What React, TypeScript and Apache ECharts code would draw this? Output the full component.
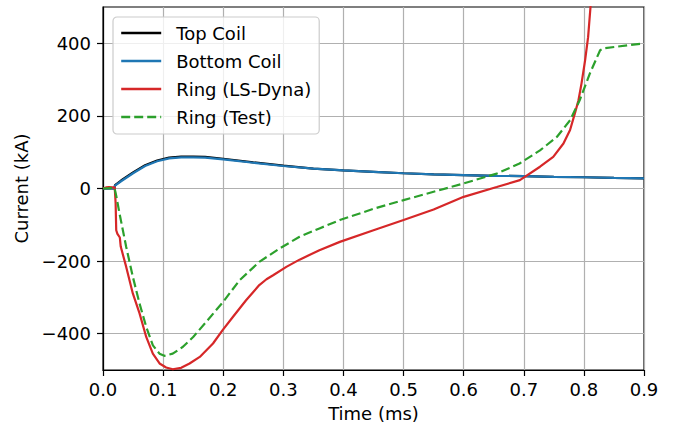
import React, { useEffect, useRef } from "react";
import * as echarts from "echarts";

const coilT = [0, 0.019, 0.02, 0.03, 0.05, 0.07, 0.09, 0.11, 0.13, 0.15, 0.17, 0.2, 0.25, 0.3, 0.35, 0.4, 0.45, 0.5, 0.55, 0.6, 0.65, 0.7, 0.75, 0.8, 0.85, 0.9];
const topCoil = [0, 0, 9, 22, 44, 64, 77, 85, 88, 88, 87, 82, 72, 63, 55, 50, 46, 42, 39, 37, 35, 34, 32, 31, 29, 28];
const bottomCoil = [0, 0, 8, 20, 42, 62, 75, 83, 86, 86, 85, 80, 71, 62, 55, 50, 46, 42, 39, 37, 35, 34, 32, 31, 29, 28];

const ringDynaT = [0, 0.005, 0.01, 0.015, 0.0195, 0.021, 0.022, 0.024, 0.028, 0.0295, 0.0386, 0.0496, 0.0608, 0.0719, 0.0829, 0.0941, 0.105, 0.116, 0.13, 0.144, 0.161, 0.183, 0.199, 0.216, 0.238, 0.25, 0.26, 0.272, 0.283, 0.305, 0.327, 0.36, 0.394, 0.45, 0.5, 0.55, 0.6, 0.655, 0.6935, 0.727, 0.749, 0.766, 0.777, 0.785, 0.791, 0.796, 0.802, 0.807, 0.811, 0.816];
const ringDyna = [0, 3, 4, 3, 3, -40, -115, -125, -135, -160, -216, -289, -344, -409, -455, -482, -493, -498, -494, -482, -464, -427, -390, -354, -308, -285, -266, -250, -239, -216, -196, -170, -147, -115, -87, -58, -23, 4, 23, 60, 87, 124, 161, 207, 243, 289, 353, 417, 500, 580];

const ringTestT = [0, 0.01, 0.019, 0.022, 0.0275, 0.0386, 0.0496, 0.0608, 0.0719, 0.083, 0.094, 0.102, 0.116, 0.133, 0.15, 0.172, 0.2, 0.227, 0.26, 0.294, 0.327, 0.36, 0.394, 0.45, 0.5, 0.55, 0.6, 0.655, 0.693, 0.727, 0.755, 0.777, 0.793, 0.81, 0.827, 0.832, 0.9];
const ringTest = [0, 1, 2, -20, -69, -161, -243, -317, -381, -432, -455, -461, -455, -436, -409, -367, -312, -253, -202, -165, -133, -110, -87, -56, -32, -9, 14, 41, 69, 105, 142, 188, 243, 317, 381, 386, 400];

const yTicks = [-400, -200, 0, 200, 400];
const names = ["Top Coil", "Bottom Coil", "Ring (LS-Dyna)", "Ring (Test)"];

const zip = (t: number[], v: number[]) => t.map((x, i) => [x, v[i]]);
const FONT = "DejaVu Sans";
const FS = 18;

export default function App() {
  const ref = useRef<HTMLDivElement>(null);
  useEffect(() => {
    if (!ref.current) return;
    const chart = echarts.init(ref.current, null, { renderer: "svg" });
    const lineBase = { type: "line", showSymbol: false, symbol: "none", smooth: false };
    chart.setOption({
      animation: false,
      backgroundColor: "#fff",
      textStyle: { fontFamily: FONT },
      grid: { left: 103, top: 7, right: 34, bottom: 60, show: true, borderColor: "#000", borderWidth: 1.2, backgroundColor: "transparent" },
      legend: {
        data: names,
        orient: "vertical",
        left: 113,
        top: 17,
        itemWidth: 40,
        itemHeight: 18,
        itemGap: 10,
        padding: [7, 8, 8, 7],
        backgroundColor: "rgba(255,255,255,0.8)",
        borderColor: "#cccccc",
        borderWidth: 1.2,
        borderRadius: 4,
        itemStyle: { opacity: 0 },
        lineStyle: { width: 2.4 },
        textStyle: { fontFamily: FONT, fontSize: FS, color: "#000", lineHeight: 18, padding: [0, 0, 0, 10] },
      },
      xAxis: {
        type: "value",
        min: 0,
        max: 0.9,
        interval: 0.1,
        name: "Time (ms)",
        nameLocation: "middle",
        nameGap: 34,
        nameTextStyle: { fontFamily: FONT, fontSize: FS, color: "#000" },
        axisLine: { show: true, onZero: false, lineStyle: { color: "#000", width: 1.2 } },
        axisTick: { show: true, length: 6, lineStyle: { color: "#000", width: 1.2 } },
        axisLabel: { fontFamily: FONT, fontSize: FS, color: "#000", margin: 10, formatter: (v: number) => v.toFixed(1) },
        splitLine: { show: true, lineStyle: { color: "#b0b0b0", width: 1.2 } },
      },
      yAxis: {
        type: "value",
        min: -500,
        max: 500,
        interval: 100,
        name: "Current (kA)",
        nameLocation: "middle",
        nameGap: 68,
        nameTextStyle: { fontFamily: FONT, fontSize: FS, color: "#000" },
        axisLine: { show: true, onZero: false, lineStyle: { color: "#000", width: 1.2 } },
        axisTick: { show: true, length: 6, customValues: yTicks, lineStyle: { color: "#000", width: 1.2 } },
        axisLabel: {
          fontFamily: FONT, fontSize: FS, color: "#000", margin: 12, customValues: yTicks,
          formatter: (v: number) => (v < 0 ? "\u2212" + Math.abs(v) : String(v)),
        },
        splitLine: { show: true, lineStyle: { color: "#b0b0b0", width: 1.2 } },
      },
      series: [
        { ...lineBase, name: names[0], data: zip(coilT, topCoil), lineStyle: { color: "#000000", width: 2.2 }, itemStyle: { color: "#000000" } },
        { ...lineBase, name: names[1], data: zip(coilT, bottomCoil), lineStyle: { color: "#1f77b4", width: 2.2 }, itemStyle: { color: "#1f77b4" } },
        { ...lineBase, name: names[2], data: zip(ringDynaT, ringDyna), lineStyle: { color: "#d62728", width: 2.2 }, itemStyle: { color: "#d62728" } },
        { ...lineBase, name: names[3], data: zip(ringTestT, ringTest), lineStyle: { color: "#2ca02c", width: 2.2, type: [9, 4] }, itemStyle: { color: "#2ca02c" } },
      ],
    });
    return () => chart.dispose();
  }, []);
  return <div ref={ref} style={{ width: 678, height: 430, position: "absolute", left: 0, top: 0 }} />;
}
